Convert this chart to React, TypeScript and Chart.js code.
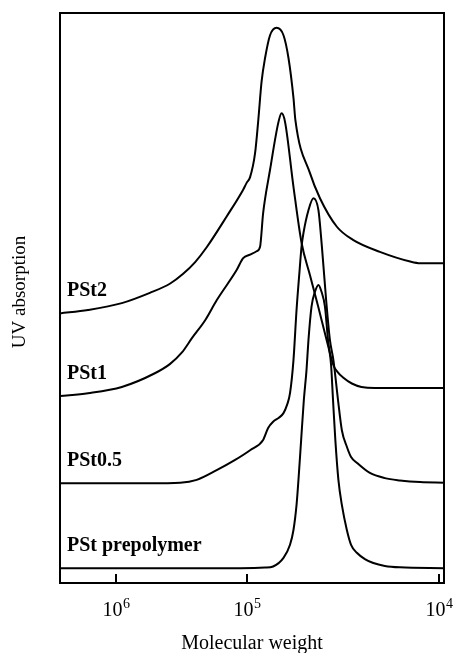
import { useEffect, useRef } from "react";
import { Chart, registerables } from "chart.js";

Chart.register(...registerables);

// x: elution position (0–100 across the axis); the calibration puts these tick labels at these positions
const xTickValues = [14.6, 48.7, 98.7];
const xTickBase = "10";
const xTickExponents = ["6", "5", "4"];
const xTitle = "Molecular weight";
const yTitle = "UV absorption";

const seriesNames = ["PSt2", "PSt1", "PSt0.5", "PSt prepolymer"];

const pst2X = [0, 7.3, 16.1, 23.4, 28.6, 32.0, 35.2, 38.2, 43.4, 47.7, 48.6, 49.5, 50.8, 51.6, 52.5, 53.4, 54.7, 56.4, 58.2, 59.5, 60.8, 61.3, 65.1, 67.7, 72.1, 76.3, 83.3, 91.2, 93.8, 100];
const pst2Y = [47.3, 47.9, 49.1, 50.9, 52.5, 54.2, 56.3, 58.9, 64.3, 69.0, 70.2, 71.2, 75.4, 80.9, 88.0, 92.1, 96.1, 97.4, 96.1, 92.1, 85.1, 81.2, 71.9, 67.5, 62.5, 60.2, 58.1, 56.4, 56.1, 56.1];

const pst1X = [0, 7.3, 16.1, 24.7, 28.6, 31.7, 34.4, 37.8, 40.8, 46.0, 47.7, 49.5, 51.2, 52.1, 52.9, 54.7, 56.9, 57.7, 58.6, 60.8, 62.9, 65.1, 67.2, 69.3, 71.2, 72.2, 73.8, 76.0, 78.5, 82.0, 100];
const pst1Y = [32.8, 33.3, 34.4, 36.8, 38.4, 40.4, 43.0, 46.1, 49.6, 54.9, 57.0, 57.6, 58.2, 59.0, 64.9, 72.5, 80.9, 82.4, 80.9, 69.5, 59.7, 54.0, 48.6, 43.0, 38.2, 37.1, 36.0, 35.0, 34.4, 34.2, 34.2];

const pst05X = [0, 23.4, 31.3, 35.6, 40.8, 45.6, 49.5, 52.9, 54.2, 55.5, 57.0, 58.2, 59.1, 59.9, 60.8, 61.6, 62.4, 62.9, 63.4, 64.7, 66.0, 67.3, 68.2, 69.3, 70.3, 71.2, 72.4, 73.4, 74.7, 75.8, 77.3, 80.7, 84.6, 88.5, 93.8, 100];
const pst05Y = [17.5, 17.5, 17.6, 18.1, 19.8, 21.6, 23.3, 25.1, 27.2, 28.3, 29.0, 29.8, 31.2, 33.3, 39.1, 47.9, 54.9, 59.0, 61.4, 65.4, 67.5, 65.4, 59.0, 49.7, 42.6, 39.1, 32.1, 26.8, 23.9, 22.1, 21.1, 19.3, 18.4, 18.0, 17.7, 17.6];

const prepX = [0, 46.9, 53.4, 55.5, 58.2, 59.9, 60.8, 61.6, 62.1, 62.8, 63.5, 64.2, 64.7, 65.5, 66.4, 67.3, 68.1, 69.0, 69.8, 70.6, 71.1, 71.7, 72.5, 73.4, 74.7, 75.8, 77.3, 79.4, 81.6, 84.6, 88.5, 100];
const prepY = [2.6, 2.6, 2.7, 2.9, 4.4, 6.7, 9.3, 13.7, 18.1, 25.1, 32.1, 37.4, 42.6, 48.5, 51.1, 52.3, 51.1, 48.5, 42.6, 38.2, 32.1, 25.1, 18.1, 13.7, 9.3, 6.7, 5.3, 4.2, 3.5, 3.0, 2.75, 2.6];

const seriesX = [pst2X, pst1X, pst05X, prepX];
const seriesY = [pst2Y, pst1Y, pst05Y, prepY];

const SERIF = '"Liberation Serif", "Times New Roman", Times, serif';

const decorPlugin = {
  id: "decor",
  afterDatasetsDraw(chart: any) {
    const { ctx, chartArea: a, scales } = chart;
    const xs = scales.x;
    const ys = scales.y;
    ctx.save();
    ctx.strokeStyle = "#000";
    ctx.fillStyle = "#000";
    ctx.lineWidth = 2;
    ctx.strokeRect(a.left, a.top, a.right - a.left, a.bottom - a.top);

    ctx.beginPath();
    xTickValues.forEach((v) => {
      const px = Math.round(xs.getPixelForValue(v));
      ctx.moveTo(px, a.bottom);
      ctx.lineTo(px, a.bottom - 9);
    });
    ctx.stroke();

    ctx.textBaseline = "alphabetic";
    ctx.textAlign = "left";
    xTickValues.forEach((v, i) => {
      const px = xs.getPixelForValue(v);
      ctx.font = `20px ${SERIF}`;
      const wb = ctx.measureText(xTickBase).width;
      ctx.font = `14px ${SERIF}`;
      const we = ctx.measureText(xTickExponents[i]).width;
      const x0 = px - (wb + we) / 2;
      ctx.font = `20px ${SERIF}`;
      ctx.fillText(xTickBase, x0, a.bottom + 33);
      ctx.font = `14px ${SERIF}`;
      ctx.fillText(xTickExponents[i], x0 + wb + 0.5, a.bottom + 25);
    });

    ctx.font = `20px ${SERIF}`;
    ctx.textAlign = "center";
    ctx.fillText(xTitle, (a.left + a.right) / 2, a.bottom + 66);

    ctx.save();
    ctx.translate(a.left - 35, (a.top + a.bottom) / 2 - 6);
    ctx.rotate(-Math.PI / 2);
    ctx.font = `19px ${SERIF}`;
    ctx.textAlign = "center";
    ctx.fillText(yTitle, 0, 0);
    ctx.restore();

    ctx.font = `bold 20px ${SERIF}`;
    ctx.textAlign = "left";
    seriesNames.forEach((name, i) => {
      const py = ys.getPixelForValue(seriesY[i][0]);
      ctx.fillText(name, a.left + 7, py - 17);
    });
    ctx.restore();
  },
};

export default function App() {
  const ref = useRef<HTMLCanvasElement | null>(null);
  useEffect(() => {
    if (!ref.current) return;
    const datasets = seriesNames.map((name, i) => ({
      label: name,
      data: seriesX[i].map((x, j) => ({ x, y: seriesY[i][j] })),
      showLine: true,
      borderColor: "#000",
      borderWidth: 2,
      pointRadius: 0,
      fill: false,
      cubicInterpolationMode: "monotone" as const,
    }));
    const chart = new Chart(ref.current, {
      type: "scatter",
      data: { datasets },
      options: {
        animation: false,
        responsive: false,
        maintainAspectRatio: false,
        devicePixelRatio: 1,
        layout: { padding: { left: 60, right: 9, top: 13, bottom: 70 } },
        plugins: { legend: { display: false }, tooltip: { enabled: false } },
        events: [],
        scales: {
          x: { type: "linear", min: 0, max: 100, display: false },
          y: { type: "linear", min: 0, max: 100, display: false },
        },
      },
      plugins: [decorPlugin],
    });
    return () => chart.destroy();
  }, []);
  return (
    <div style={{ position: "absolute", left: 0, top: 0, width: 453, height: 653, background: "#fff" }}>
      <canvas ref={ref} width={453} height={653} style={{ display: "block" }} />
    </div>
  );
}
